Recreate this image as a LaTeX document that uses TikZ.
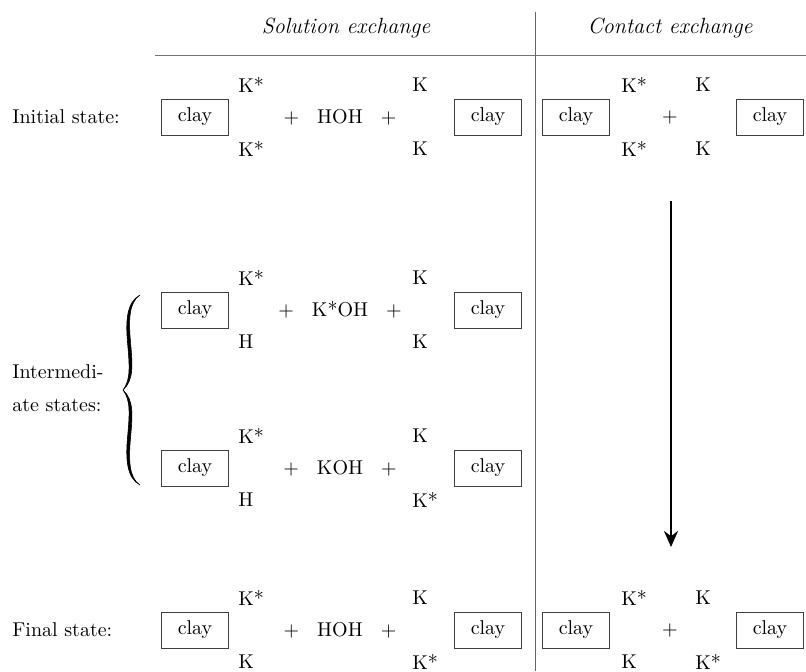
\documentclass[tikz,border=0pt]{standalone}
\usetikzlibrary{arrows.meta}
\begin{document}
\begin{tikzpicture}[x=0.5pt,y=-0.5pt,
  clay/.style={draw=black!75,line width=0.5pt,minimum width=33.5pt,minimum height=18pt,inner sep=0pt,font=\fontsize{10}{12}\selectfont},
  ion/.style={anchor=west,inner sep=0pt,font=\fontsize{10}{12}\selectfont},
  txt/.style={inner sep=0pt,font=\fontsize{10}{12}\selectfont},
  head/.style={inner sep=0pt,font=\fontsize{11}{13}\selectfont\itshape},
  lbl/.style={anchor=west,inner sep=0pt,font=\fontsize{10}{12}\selectfont}]
  \useasboundingbox (0,0) rectangle (806,671);
  % headings
  \node[head] (sol) at (346,28) {Solution exchange};
  \node[head] (con) at (670,28) {Contact exchange};
  \coordinate (rulel) at (155,55);
  \coordinate (ruler) at (806,55);
  \draw[black!55,line width=0.5pt] (rulel) -- (ruler);
  \coordinate (vtop) at (535,12);
  \coordinate (vbot) at (535,671);
  \draw[black!60,line width=0.5pt] (vtop) -- (vbot);
  % row labels
  \node[lbl] (ini) at (12,117) {Initial state:};
  \node[lbl] (intA) at (12,372) {Intermedi-};
  \node[lbl] (intB) at (12,405) {ate states:};
  \node[lbl] (fin) at (12,630) {Final state:};
  % solution exchange rows
  \foreach \i/\y/\topl/\botl/\mtxt/\topr/\botr in
      {1/117/K*/K*/HOH/K/K, 2/310/K*/H/K*OH/K/K,
       3/468/K*/H/KOH/K/K*, 4/630/K*/K/HOH/K/K*} {
    \node[clay] (cl\i) at (195,\y) {clay};
    \node[ion] (tl\i) at (238,\y-32) {\topl};
    \node[ion] (bl\i) at (238,\y+32) {\botl};
    \node[txt] (md\i) at (340,\y) {$+$\hspace{0.9em}\mtxt\hspace{0.9em}$+$};
    \node[ion] (tr\i) at (412,\y-32) {\topr};
    \node[ion] (br\i) at (412,\y+32) {\botr};
    \node[clay] (cr\i) at (488,\y) {clay};
  }
  % contact exchange rows
  \foreach \i/\y/\topl/\botl/\topr/\botr in
      {1/117/K*/K*/K/K, 4/630/K*/K/K/K*} {
    \node[clay] (ca\i) at (576,\y) {clay};
    \node[ion] (ta\i) at (621,\y-32) {\topl};
    \node[ion] (ba\i) at (621,\y+32) {\botl};
    \node[txt] (pl\i) at (670,\y) {$+$};
    \node[ion] (tb\i) at (695,\y-32) {\topr};
    \node[ion] (bb\i) at (695,\y+32) {\botr};
    \node[clay] (cb\i) at (770,\y) {clay};
  }
  % arrow
  \coordinate (atop) at (671,201);
  \coordinate (abot) at (671,547);
  \draw[line width=1.4pt,-{Stealth[length=8pt,width=7pt]}] (atop) -- (abot);
  % brace
  \fill[draw,line width=0.3pt] (140,295) .. controls (127,302) and (125.5,320) .. (127.5,342)
    .. controls (129.5,365) and (131,380) .. (123,390)
    .. controls (131,400) and (129.5,415) .. (127.5,438)
    .. controls (125.5,460) and (127,478) .. (140,485)
    .. controls (129,478) and (128.5,460) .. (130.5,438)
    .. controls (132.5,415) and (134,400) .. (123,390)
    .. controls (134,380) and (132.5,365) .. (130.5,342)
    .. controls (128.5,320) and (129,302) .. (140,295) -- cycle;
\end{tikzpicture}
\end{document}
